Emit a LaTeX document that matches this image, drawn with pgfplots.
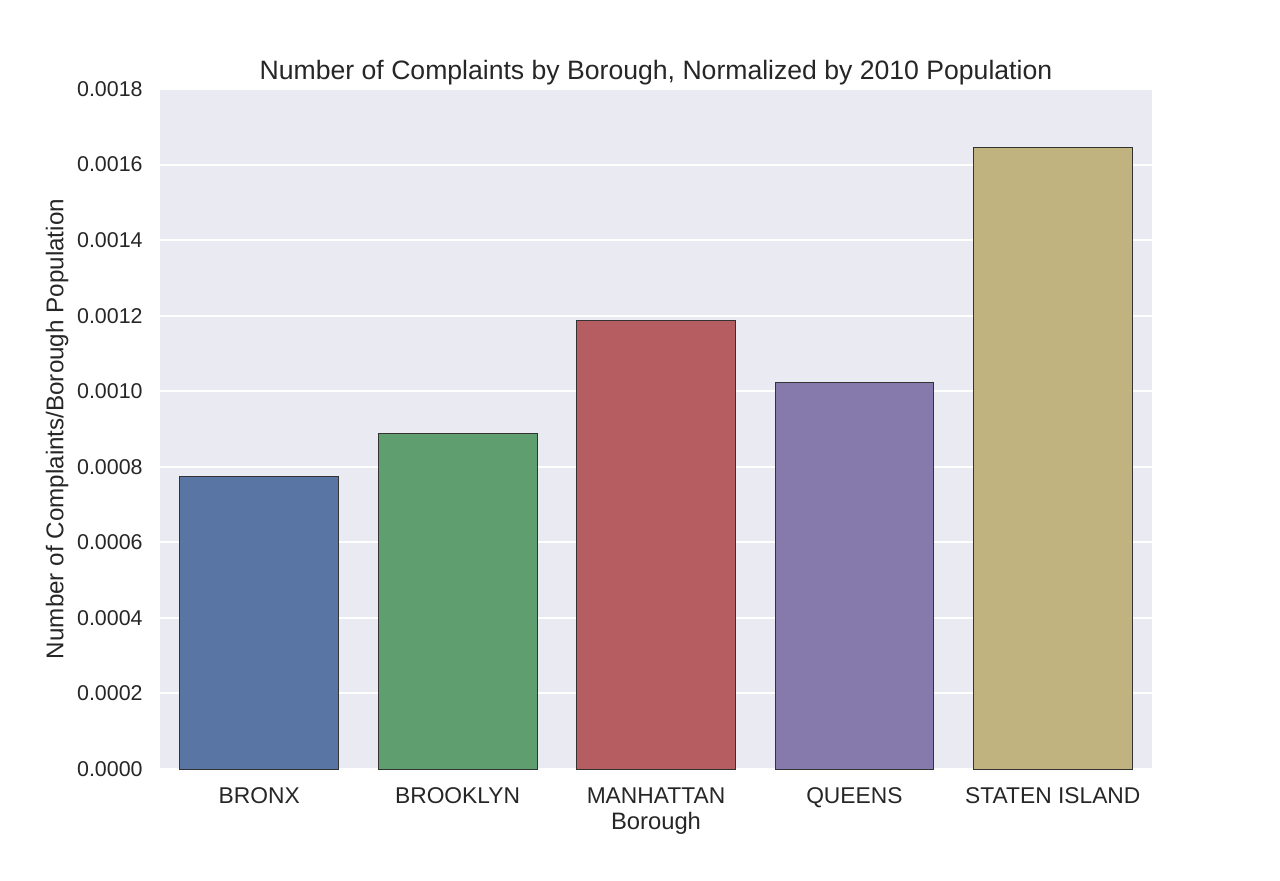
\documentclass[border=0pt]{standalone}
\usepackage{fontspec}
\setmainfont{Liberation Sans}
\usepackage{pgfplots}
\pgfplotsset{compat=1.18}
\definecolor{bgc}{HTML}{EAEAF2}
\definecolor{txt}{HTML}{262626}
\definecolor{cA}{HTML}{5975A4}
\definecolor{cB}{HTML}{5F9E6E}
\definecolor{cC}{HTML}{B55D60}
\definecolor{cD}{HTML}{857AAB}
\definecolor{cE}{HTML}{C1B37F}
\begin{document}
\begin{tikzpicture}
\path[use as bounding box] (-80pt,-55.5pt) rectangle (560pt,384.5pt);
\begin{axis}[
  at={(0,0)}, anchor=south west,
  width=496pt, height=340pt, scale only axis,
  xmin=-0.5, xmax=4.5, ymin=0, ymax=0.0018,
  axis background/.style={fill=bgc},
  axis line style={draw=none},
  major tick length=0pt,
  xtick={0,1,2,3,4},
  xticklabels={BRONX,BROOKLYN,MANHATTAN,QUEENS,STATEN ISLAND},
  ytick={0,0.0002,0.0004,0.0006,0.0008,0.001,0.0012,0.0014,0.0016,0.0018},
  scaled y ticks=false,
  /pgf/number format/fixed, /pgf/number format/fixed zerofill, /pgf/number format/precision=4, /pgf/number format/assume math mode=true,
  yticklabel style={anchor=east, inner sep=0pt, xshift=-8.5pt, font=\fontsize{10.7}{12}\selectfont, text=txt},
  xticklabel style={anchor=base, inner sep=0pt, yshift=-17pt, font=\fontsize{11.4}{13}\selectfont, text=txt},
  ymajorgrids, grid style={white, line width=1pt},
  title={Number of Complaints by Borough, Normalized by 2010 Population},
  title style={at={(axis description cs:0.5,1)}, anchor=base, yshift=-1pt, inner sep=0pt, font=\fontsize{13.3}{15}\selectfont, text=txt},
  xlabel={Borough},
  xlabel style={at={(axis description cs:0.5,-0.0794)}, anchor=center, inner sep=0pt, font=\fontsize{11.9}{14}\selectfont, text=txt},
  ylabel={Number of Complaints/Borough Population},
  ylabel style={at={(axis description cs:-0.1038,0.5)}, anchor=center, inner sep=0pt, font=\fontsize{12.1}{14}\selectfont, text=txt},
]
\addplot[ybar, bar width=0.8, bar shift=0pt, fill=cA, draw=black!80, line width=0.4pt] coordinates {(0,0.0007756)};
\addplot[ybar, bar width=0.8, bar shift=0pt, fill=cB, draw=black!80, line width=0.4pt] coordinates {(1,0.000889)};
\addplot[ybar, bar width=0.8, bar shift=0pt, fill=cC, draw=black!80, line width=0.4pt] coordinates {(2,0.0011885)};
\addplot[ybar, bar width=0.8, bar shift=0pt, fill=cD, draw=black!80, line width=0.4pt] coordinates {(3,0.001024)};
\addplot[ybar, bar width=0.8, bar shift=0pt, fill=cE, draw=black!80, line width=0.4pt] coordinates {(4,0.0016465)};
\end{axis}
\end{tikzpicture}
\end{document}
